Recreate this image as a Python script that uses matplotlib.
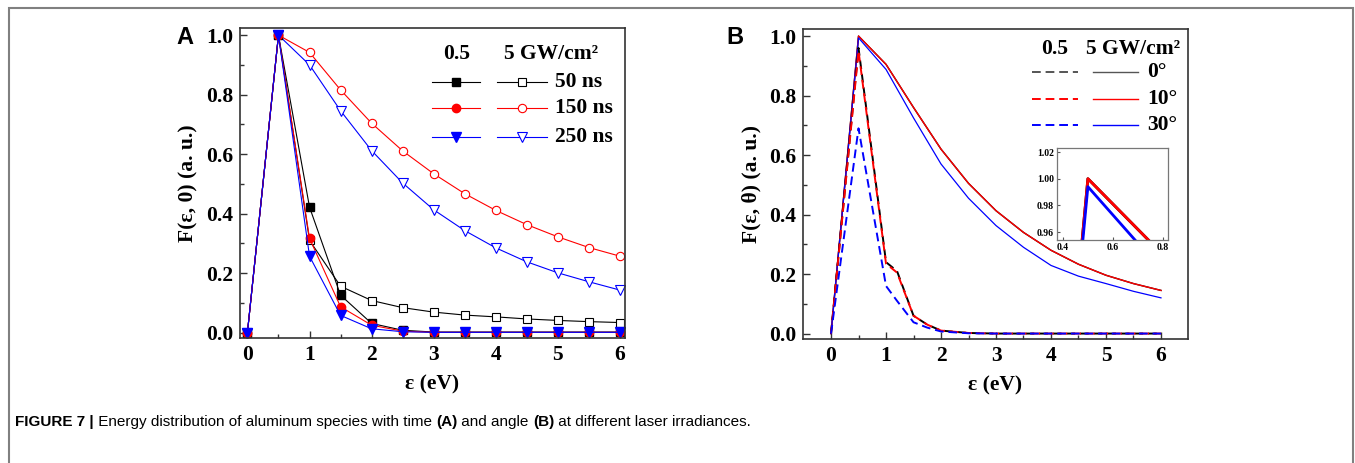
import numpy as np
import matplotlib
matplotlib.use("Agg")
import matplotlib.pyplot as plt
from matplotlib.lines import Line2D
from matplotlib.patches import Rectangle

# ---- data: panel A (time), 0.5 GW/cm2 (filled) and 5 GW/cm2 (hollow)
eA = [0, 0.5, 1.0, 1.5, 2.0, 2.5, 3.0, 3.5, 4.0, 4.5, 5.0, 5.5, 6.0]
low_50 = [0, 1.0, 0.422, 0.126, 0.031, 0.008, 0.002, 0.002, 0.002, 0.002, 0.002, 0.002, 0.002]
low_150 = [0, 1.0, 0.317, 0.087, 0.025, 0.005, 0.001, 0.001, 0.001, 0.001, 0.001, 0.001, 0.001]
low_250 = [0, 1.0, 0.257, 0.058, 0.013, 0.003, 0.001, 0.001, 0.001, 0.001, 0.001, 0.001, 0.001]
high_50 = [0, 1.0, 0.31, 0.156, 0.108, 0.084, 0.069, 0.059, 0.053, 0.046, 0.041, 0.037, 0.034]
high_150 = [0, 1.0, 0.942, 0.816, 0.704, 0.611, 0.534, 0.467, 0.411, 0.363, 0.322, 0.286, 0.257]
high_250 = [0, 1.0, 0.90, 0.746, 0.612, 0.503, 0.413, 0.343, 0.285, 0.238, 0.201, 0.171, 0.143]
times = ["50 ns", "150 ns", "250 ns"]

# ---- data: panel B (angle)
eB_low = [0, 0.5, 1.0, 1.2, 1.5, 1.75, 2.0, 2.5, 3.0, 4.0, 5.0, 6.0]
low_0 = [0, 0.96, 0.24, 0.21, 0.06, 0.03, 0.01, 0.002, 0, 0, 0, 0]
low_10 = [0, 0.95, 0.235, 0.205, 0.06, 0.03, 0.01, 0.002, 0, 0, 0, 0]
low_30 = [0, 0.69, 0.16, 0.11, 0.038, 0.02, 0.007, 0.001, 0, 0, 0, 0]
eB_high = [0, 0.5, 1.0, 1.5, 2.0, 2.5, 3.0, 3.5, 4.0, 4.5, 5.0, 5.5, 6.0]
high_0 = [0, 1.0, 0.905, 0.76, 0.62, 0.505, 0.413, 0.34, 0.28, 0.233, 0.196, 0.168, 0.145]
high_10 = [0, 1.0, 0.905, 0.76, 0.62, 0.505, 0.413, 0.34, 0.28, 0.233, 0.196, 0.168, 0.145]
high_30 = [0, 0.994, 0.888, 0.725, 0.57, 0.455, 0.363, 0.29, 0.229, 0.193, 0.168, 0.142, 0.12]
angles = ["0°", "10°", "30°"]

serif = "Liberation Serif"
sans = "Liberation Sans"
red = "#ff0000"
blue = "#0000ff"
fs = 15.5

fig = plt.figure(figsize=(13.55, 4.63), dpi=100)

axA = fig.add_axes([0.1771, 0.270, 0.2841, 0.6695])
axB = fig.add_axes([0.5926, 0.268, 0.2841, 0.6695])


def style_axis(ax, xlim):
    ax.set_xlim(*xlim)
    ax.set_ylim(-0.018, 1.024)
    ax.set_xticks(range(0, 7))
    ax.set_xticks(np.arange(0.5, 6.5, 1.0), minor=True)
    ax.set_yticks([0.0, 0.2, 0.4, 0.6, 0.8, 1.0])
    ax.set_yticks([0.1, 0.3, 0.5, 0.7, 0.9], minor=True)
    ax.set_yticklabels(["0.0", "0.2", "0.4", "0.6", "0.8", "1.0"])
    ax.tick_params(which="both", direction="in", top=False, right=False, width=1.0, color="#333333")
    ax.tick_params(which="major", length=5, pad=5)
    ax.tick_params(which="minor", length=3)
    for lab in ax.get_xticklabels() + ax.get_yticklabels():
        lab.set_fontfamily(serif)
        lab.set_fontweight("bold")
        lab.set_fontsize(fs)
    for sp in ax.spines.values():
        sp.set_linewidth(1.2)
        sp.set_color("#333333")
    ax.set_xlabel("ε (eV)", fontfamily=serif, fontweight="bold", fontsize=fs, labelpad=7)


# ---------------- panel A
style_axis(axA, (-0.12, 6.08))
ms = 5.5
lw = 0.8
axA.plot(eA, high_50, color="black", lw=lw, marker="s", ms=ms, mfc="white", mec="black", mew=0.8)
axA.plot(eA, high_150, color=red, lw=lw, marker="o", ms=ms + 0.5, mfc="white", mec=red, mew=0.8)
axA.plot(eA, high_250, color=blue, lw=lw, marker="v", ms=ms + 1, mfc="white", mec=blue, mew=0.8)
axA.plot(eA, low_50, color="black", lw=lw, marker="s", ms=ms, mfc="black", mec="black")
axA.plot(eA, low_150, color=red, lw=lw, marker="o", ms=ms + 0.5, mfc=red, mec=red)
axA.plot(eA, low_250, color=blue, lw=lw, marker="v", ms=ms + 1, mfc=blue, mec=blue)
axA.set_ylabel("F(ε, 0) (a. u.)", fontfamily=serif, fontweight="bold", fontsize=fs, labelpad=5)

# custom legend (filled = 0.5, hollow = 5 GW/cm2)
axA.text(0.564, 0.916, "0.5", transform=axA.transAxes, ha="center", va="center",
         fontfamily=serif, fontweight="bold", fontsize=fs)
axA.text(0.808, 0.916, "5 GW/cm²", transform=axA.transAxes, ha="center", va="center",
         fontfamily=serif, fontweight="bold", fontsize=fs)
rowsA = [0.826, 0.742, 0.648]
legA = [("black", "s", ms), (red, "o", ms + 0.5), (blue, "v", ms + 1)]
for (c, m, s), y, lab in zip(legA, rowsA, times):
    axA.add_line(Line2D([0.499, 0.623], [y, y], transform=axA.transAxes, color=c, lw=lw))
    axA.add_line(Line2D([0.561], [y], transform=axA.transAxes, marker=m, ms=s, mfc=c, mec=c, ls="none"))
    axA.add_line(Line2D([0.668, 0.797], [y, y], transform=axA.transAxes, color=c, lw=lw))
    axA.add_line(Line2D([0.732], [y], transform=axA.transAxes, marker=m, ms=s, mfc="white", mec=c,
                        mew=0.8, ls="none"))
    axA.text(0.818, y, lab, transform=axA.transAxes, ha="left", va="center",
             fontfamily=serif, fontweight="bold", fontsize=fs)

# ---------------- panel B
style_axis(axB, (-0.51, 6.49))
dash = (4.5, 2.5)
axB.plot(eB_high, high_0, color="black", lw=1.0)
axB.plot(eB_high, high_10, color=red, lw=1.0)
axB.plot(eB_high, high_30, color=blue, lw=0.9)
axB.plot(eB_low, low_0, color="black", lw=1.4, ls="--", dashes=dash)
axB.plot(eB_low, low_10, color=red, lw=1.4, ls="--", dashes=dash)
axB.plot(eB_low, low_30, color=blue, lw=1.4, ls="--", dashes=dash)
axB.set_ylabel("F(ε, θ) (a. u.)", fontfamily=serif, fontweight="bold", fontsize=fs, labelpad=5)

axB.text(0.655, 0.935, "0.5", transform=axB.transAxes, ha="center", va="center",
         fontfamily=serif, fontweight="bold", fontsize=fs)
axB.text(0.857, 0.935, "5 GW/cm²", transform=axB.transAxes, ha="center", va="center",
         fontfamily=serif, fontweight="bold", fontsize=fs)
rowsB = [0.861, 0.773, 0.689]
for c, y, lab in zip(["#555555", red, blue], rowsB, angles):
    axB.add_line(Line2D([0.595, 0.714], [y, y], transform=axB.transAxes, color=c, lw=1.4,
                        ls="--", dashes=dash))
    axB.add_line(Line2D([0.753, 0.870], [y, y], transform=axB.transAxes, color=c, lw=1.0))
    axB.text(0.894, y, lab, transform=axB.transAxes, ha="left", va="center",
             fontfamily=serif, fontweight="bold", fontsize=fs)

# inset zoom on peak
axI = fig.add_axes([0.780, 0.4816, 0.0819, 0.1987])
axI.plot(eB_high, high_0, color="black", lw=2.0)
axI.plot(eB_high, high_10, color=red, lw=2.0)
axI.plot(eB_high, high_30, color=blue, lw=2.0)
axI.set_xlim(0.376, 0.82)
axI.set_ylim(0.954, 1.023)
axI.set_xticks([0.4, 0.6, 0.8])
axI.set_yticks([0.96, 0.98, 1.00, 1.02])
axI.set_xticklabels(["0.4", "0.6", "0.8"])
axI.set_yticklabels(["0.96", "0.98", "1.00", "1.02"])
axI.tick_params(direction="in", length=2, width=0.8, pad=2, top=False, right=False, color="#555555")
for lab in axI.get_xticklabels() + axI.get_yticklabels():
    lab.set_fontfamily(serif)
    lab.set_fontweight("bold")
    lab.set_fontsize(7)
for sp in axI.spines.values():
    sp.set_linewidth(0.9)
    sp.set_color("#777777")

# panel letters
fig.text(185 / 1355, 1 - 37 / 463, "A", ha="center", va="center", fontfamily=sans,
         fontweight="bold", fontsize=17)
fig.text(735 / 1355, 1 - 37 / 463, "B", ha="center", va="center", fontfamily=sans,
         fontweight="bold", fontsize=17)

# caption, written in pieces so the bold parts stay in the same family
cap_parts = [("FIGURE 7 |", "bold"), (" Energy distribution of aluminum species with time ", "normal"),
             ("(A)", "bold"), (" and angle ", "normal"), ("(B)", "bold"),
             (" at different laser irradiances.", "normal")]
x = 15
fig.canvas.draw()
renderer = fig.canvas.get_renderer()
for txt, wt in cap_parts:
    t = fig.text(x / 1355, 1 - 422 / 463, txt, ha="left", va="center", fontfamily=sans,
                 fontweight=wt, fontsize=11)
    bb = t.get_window_extent(renderer=renderer)
    x = bb.x1

# outer frame
fig.patches.append(Rectangle((9 / 1355, -0.05), (1353 - 9) / 1355, 0.05 + 1 - 8 / 463,
                             transform=fig.transFigure, fill=False, ec="#808080", lw=1.5))

fig.savefig("out.png", dpi=100)
